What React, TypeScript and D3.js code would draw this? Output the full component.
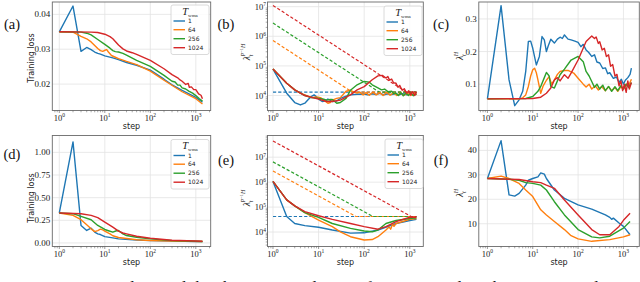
import React from "react";
import * as d3 from "d3";

type Pt = [number, number];

const legendLabels = ["1", "64", "256", "1024"];
const colors = ["#1f77b4", "#ff7f0e", "#2ca02c", "#d62728"];

// (a) training loss, top row
const lossA_1: Pt[] = [[1, 0.035], [2, 0.0424], [3, 0.0294], [4, 0.0305], [5, 0.0299], [6, 0.0292], [7, 0.0288], [8, 0.0286], [10, 0.0281], [15, 0.0275], [20, 0.027], [30, 0.0262], [50, 0.0254], [100, 0.024], [200, 0.0214], [300, 0.0198], [500, 0.0182], [1000, 0.0162], [1400, 0.0148]];
const lossA_64: Pt[] = [[1, 0.035], [2, 0.0349], [3, 0.0337], [4, 0.033], [5, 0.0321], [6, 0.0311], [7, 0.0302], [8, 0.0296], [9, 0.0294], [10, 0.0297], [11, 0.0299], [12, 0.0292], [14, 0.0282], [17, 0.0277], [20, 0.0273], [30, 0.0265], [50, 0.0256], [100, 0.0237], [200, 0.0211], [500, 0.0178], [1000, 0.0158], [1400, 0.0143]];
const lossA_256: Pt[] = [[1, 0.035], [3, 0.0349], [4, 0.0346], [5, 0.0341], [7, 0.0328], [10, 0.0314], [13, 0.0303], [15, 0.0296], [17, 0.0293], [20, 0.0292], [25, 0.0288], [30, 0.0283], [50, 0.0268], [100, 0.0251], [200, 0.0225], [300, 0.0208], [350, 0.0206], [400, 0.0197], [450, 0.0197], [500, 0.0189], [600, 0.0186], [700, 0.018], [850, 0.0174], [1000, 0.0167], [1200, 0.0158], [1400, 0.0151]];
const lossA_1024: Pt[] = [[1, 0.035], [5, 0.0349], [7, 0.0348], [10, 0.0343], [13, 0.0336], [15, 0.033], [20, 0.0312], [25, 0.0301], [30, 0.0295], [40, 0.029], [50, 0.0285], [100, 0.0268], [200, 0.0244], [300, 0.0227], [400, 0.0218], [450, 0.0212], [500, 0.0208], [600, 0.0199], [680, 0.0202], [720, 0.0191], [800, 0.0192], [900, 0.0184], [1000, 0.0184], [1150, 0.0172], [1300, 0.0168], [1400, 0.0158]];

// (b) preconditioned sharpness, top row (solid) and its bound (dashed)
const precB_1: Pt[] = [[1, 7.8e4], [2, 1.2e4], [3, 5.8e3], [4, 4.8e3], [5, 5.5e3], [6, 7.5e3], [7, 9.3e3], [8, 1.05e4], [9, 9e3], [10, 7.6e3], [12, 6.3e3], [14, 6.5e3], [16, 7.6e3], [18, 7e3], [20, 6.3e3], [25, 6.5e3], [30, 8e3], [40, 9.5e3], [50, 1.05e4], [70, 1.1e4], [100, 1.12e4], [120, 1.05e4], [150, 1.15e4], [180, 1.08e4], [220, 1.18e4], [270, 1.06e4], [330, 1.15e4], [400, 1.07e4], [480, 1.17e4], [580, 1.05e4], [700, 1.16e4], [850, 1.06e4], [1000, 1.14e4], [1200, 1.05e4], [1400, 1.12e4]];
const precB_64: Pt[] = [[1, 7.8e4], [2, 2.6e4], [3, 1.55e4], [4, 1.2e4], [5, 1.05e4], [7, 8.5e3], [9, 9e3], [11, 8.5e3], [13, 7e3], [16, 5.5e3], [18, 5.8e3], [20, 7e3], [25, 8e3], [30, 8.5e3], [40, 1.4e4], [50, 1.5e4], [60, 1.3e4], [70, 1.2e4], [80, 1.3e4], [95, 1.05e4], [110, 1.25e4], [130, 1.02e4], [155, 1.3e4], [185, 1.05e4], [220, 1.25e4], [260, 1.0e4], [310, 1.28e4], [370, 1.02e4], [440, 1.25e4], [520, 1.0e4], [620, 1.22e4], [740, 1.0e4], [880, 1.22e4], [1050, 1.0e4], [1250, 1.2e4], [1400, 1.05e4]];
const precB_256: Pt[] = [[1, 7.8e4], [2, 2.6e4], [3, 1.55e4], [5, 1e4], [7, 8.5e3], [10, 8e3], [13, 7.5e3], [15, 7e3], [18, 7.3e3], [20, 7.3e3], [25, 5.5e3], [30, 5.8e3], [40, 8e3], [50, 1.5e4], [70, 2.3e4], [100, 3e4], [130, 2.8e4], [150, 2.3e4], [200, 1.8e4], [240, 1.55e4], [280, 1.65e4], [330, 1.35e4], [400, 1.4e4], [450, 1.15e4], [500, 1.2e4], [560, 1.0e4], [640, 1.25e4], [720, 0.98e4], [820, 1.22e4], [930, 1.0e4], [1050, 1.2e4], [1200, 0.98e4], [1400, 1.15e4]];
const precB_1024: Pt[] = [[1, 7.8e4], [2, 2.6e4], [3, 1.55e4], [5, 1e4], [7, 8.7e3], [10, 7.6e3], [15, 6.3e3], [20, 6.3e3], [30, 7e3], [50, 1.05e4], [70, 1.55e4], [100, 2e4], [150, 3.4e4], [200, 4.6e4], [250, 4.8e4], [300, 3.9e4], [330, 4.4e4], [360, 3.3e4], [400, 3.6e4], [440, 2.7e4], [500, 2.6e4], [550, 1.9e4], [600, 2.2e4], [680, 1.5e4], [760, 1.7e4], [850, 1.2e4], [950, 1.45e4], [1050, 1.05e4], [1150, 1.35e4], [1280, 1.0e4], [1400, 1.3e4]];
const boundB_1: Pt[] = [[1, 1.3e4], [1400, 1.3e4]];
const boundB_64: Pt[] = [[1, 7.2e5], [55, 1.3e4], [1400, 1.3e4]];
const boundB_256: Pt[] = [[1, 2.8e6], [215, 1.3e4], [1400, 1.3e4]];
const boundB_1024: Pt[] = [[1, 1.1e7], [846, 1.3e4], [1400, 1.3e4]];

// (c) sharpness, top row
const sharpC_1: Pt[] = [[1, 0.055], [2, 0.341], [3, 0.113], [4, 0.034], [5, 0.052], [6, 0.078], [7, 0.139], [8, 0.231], [9, 0.232], [10, 0.21], [12, 0.159], [14, 0.185], [16, 0.246], [18, 0.236], [20, 0.2], [22, 0.218], [25, 0.238], [30, 0.226], [35, 0.238], [40, 0.244], [45, 0.24], [50, 0.251], [60, 0.238], [70, 0.236], [85, 0.232], [100, 0.228], [115, 0.215], [130, 0.222], [150, 0.205], [170, 0.198], [200, 0.185], [230, 0.19], [260, 0.168], [300, 0.165], [350, 0.148], [400, 0.15], [450, 0.132], [500, 0.135], [600, 0.118], [700, 0.122], [800, 0.105], [900, 0.115], [1000, 0.1], [1100, 0.112], [1250, 0.12], [1400, 0.13], [1500, 0.149]];
const sharpC_64: Pt[] = [[1, 0.055], [5, 0.055], [6, 0.058], [7, 0.067], [8, 0.093], [9, 0.125], [10, 0.144], [11, 0.149], [12, 0.135], [13, 0.113], [15, 0.072], [17, 0.095], [20, 0.112], [23, 0.123], [26, 0.1], [30, 0.113], [35, 0.13], [40, 0.139], [50, 0.142], [60, 0.142], [80, 0.134], [100, 0.118], [130, 0.1], [150, 0.091], [175, 0.1], [200, 0.085], [240, 0.095], [280, 0.082], [330, 0.093], [400, 0.08], [470, 0.092], [550, 0.08], [650, 0.09], [750, 0.078], [870, 0.092], [1000, 0.085], [1150, 0.1], [1300, 0.095], [1500, 0.115]];
const sharpC_256: Pt[] = [[1, 0.055], [7, 0.056], [10, 0.062], [13, 0.078], [15, 0.093], [18, 0.12], [20, 0.136], [23, 0.125], [25, 0.093], [30, 0.088], [35, 0.11], [40, 0.129], [50, 0.146], [70, 0.174], [100, 0.185], [130, 0.169], [150, 0.139], [175, 0.125], [200, 0.108], [230, 0.09], [260, 0.1], [300, 0.085], [350, 0.097], [400, 0.08], [470, 0.093], [550, 0.078], [650, 0.092], [750, 0.08], [870, 0.095], [1000, 0.085], [1150, 0.1], [1300, 0.09], [1500, 0.105]];
const sharpC_1024: Pt[] = [[1, 0.055], [10, 0.056], [15, 0.06], [20, 0.072], [25, 0.088], [30, 0.113], [35, 0.12], [40, 0.11], [50, 0.129], [60, 0.118], [70, 0.134], [100, 0.174], [150, 0.231], [200, 0.248], [230, 0.24], [250, 0.245], [280, 0.225], [300, 0.23], [340, 0.205], [380, 0.21], [420, 0.185], [470, 0.19], [520, 0.155], [580, 0.16], [650, 0.125], [720, 0.13], [800, 0.095], [880, 0.11], [960, 0.08], [1050, 0.1], [1150, 0.075], [1250, 0.11], [1350, 0.085], [1500, 0.105]];

// (d) training loss, bottom row
const lossD_1: Pt[] = [[1, 0.331], [2, 1.115], [3, 0.193], [4, 0.138], [5, 0.164], [6, 0.12], [7, 0.1], [8, 0.093], [10, 0.07], [15, 0.056], [20, 0.045], [50, 0.033], [100, 0.026], [1000, 0.016], [1400, 0.015]];
const lossD_64: Pt[] = [[1, 0.331], [2, 0.305], [3, 0.257], [4, 0.2], [5, 0.156], [6, 0.125], [7, 0.137], [8, 0.152], [9, 0.145], [10, 0.13], [13, 0.1], [15, 0.08], [20, 0.06], [50, 0.035], [100, 0.028], [300, 0.022], [1400, 0.016]];
const lossD_256: Pt[] = [[1, 0.331], [2, 0.323], [3, 0.294], [5, 0.256], [7, 0.193], [10, 0.149], [12, 0.135], [15, 0.119], [18, 0.135], [20, 0.138], [25, 0.1], [30, 0.082], [50, 0.063], [100, 0.045], [300, 0.026], [1400, 0.017]];
const lossD_1024: Pt[] = [[1, 0.331], [3, 0.323], [5, 0.305], [7, 0.279], [10, 0.23], [15, 0.175], [20, 0.13], [25, 0.11], [30, 0.1], [50, 0.074], [100, 0.052], [300, 0.03], [1400, 0.019]];

// (e) preconditioned sharpness, bottom row
const precE_1: Pt[] = [[1, 1.07e6], [2, 4.2e4], [3, 2.2e4], [5, 1.8e4], [10, 1.55e4], [20, 1.2e4], [50, 9e3], [100, 9.3e3], [200, 1.2e4], [500, 2.2e4], [1000, 2.9e4], [1400, 3.2e4]];
const precE_64: Pt[] = [[1, 1.07e6], [2, 1.95e5], [3, 1.12e5], [5, 6e4], [10, 3e4], [20, 1.65e4], [30, 1.02e4], [50, 6.5e3], [100, 4.8e3], [150, 5e3], [200, 6.5e3], [300, 1.2e4], [350, 1.6e4], [380, 1.3e4], [420, 2.1e4], [450, 1.7e4], [500, 2.2e4], [1000, 3.2e4], [1400, 3.5e4]];
const precE_256: Pt[] = [[1, 1.07e6], [2, 1.95e5], [3, 1.12e5], [5, 6e4], [10, 3.9e4], [20, 2.2e4], [50, 1.4e4], [100, 1.1e4], [150, 1.02e4], [200, 1.2e4], [300, 2.2e4], [500, 2.9e4], [1000, 3.5e4], [1400, 3.7e4]];
const precE_1024: Pt[] = [[1, 1.07e6], [2, 1.95e5], [3, 1.12e5], [5, 6.6e4], [10, 4.5e4], [20, 3.2e4], [50, 2.2e4], [100, 1.65e4], [200, 1.3e4], [300, 1.65e4], [500, 2.6e4], [1000, 3.9e4], [1400, 3.9e4]];
const boundE_1: Pt[] = [[1, 4.2e4], [1400, 4.2e4]];
const boundE_64: Pt[] = [[1, 2.8e6], [66, 4.2e4], [1400, 4.2e4]];
const boundE_256: Pt[] = [[1, 6.5e6], [155, 4.2e4], [1400, 4.2e4]];
const boundE_1024: Pt[] = [[1, 4.5e7], [1070, 4.2e4], [1400, 4.2e4]];

// (f) sharpness, bottom row
const sharpF_1: Pt[] = [[1, 28.5], [2, 44], [3, 21.8], [4, 21.3], [5, 22.4], [7, 25.8], [8, 27.8], [10, 28.5], [13, 29.2], [15, 30.8], [18, 30.3], [20, 28.5], [30, 23.8], [50, 20.4], [100, 17.7], [200, 16], [400, 13.6], [500, 12.6], [550, 11.8], [600, 12.3], [800, 10.3], [1000, 8.9], [1400, 5.5]];
const sharpF_64: Pt[] = [[1, 28.5], [2, 29.5], [3, 28.5], [5, 26.5], [7, 23.8], [10, 21.1], [15, 15.7], [20, 13.6], [30, 10.9], [50, 7.6], [70, 5.1], [100, 3.8], [200, 2.8], [500, 3.5], [1000, 4.6], [1400, 5.5]];
const sharpF_256: Pt[] = [[1, 28.5], [3, 28.2], [5, 27.8], [7, 26.8], [10, 26.5], [15, 25.8], [20, 23.8], [30, 19], [50, 13.6], [100, 7.6], [200, 4.6], [300, 4.2], [500, 4.9], [1000, 8.2], [1400, 10.9]];
const sharpF_1024: Pt[] = [[1, 28.5], [5, 28.1], [10, 27.2], [15, 26.8], [20, 25.8], [30, 24.5], [50, 19.7], [100, 13.6], [200, 7.6], [300, 5.5], [500, 5.5], [800, 8.9], [1000, 11.4], [1400, 14.3]];

const lossTicksA = [0.02, 0.03, 0.04];
const sharpTicksC = [0.1, 0.2, 0.3];
const lossTicksD = [0, 0.25, 0.5, 0.75, 1.0];
const sharpTicksF = [10, 20, 30, 40];
const logTicks = [1e4, 1e5, 1e6, 1e7];
const stepTicks = [1, 10, 100, 1000];

const serif = "'Liberation Serif', 'DejaVu Serif', serif";
const sans = "'DejaVu Sans', sans-serif";

function Pow10({ x, y, e, anchor }: { x: number; y: number; e: number; anchor: string }) {
  return (
    <text x={x} y={y} textAnchor={anchor} fontFamily={serif} fontSize={8.5} fill="#222">
      10<tspan dy={-3.5} fontSize={5.5}>{e}</tspan>
    </text>
  );
}

function Legend({ x, y }: { x: number; y: number }) {
  const rows = [16, 24.7, 33.7, 42.7];
  return (
    <g>
      <rect x={x} y={y} width={38} height={49.5} rx={2} fill="white" fillOpacity={0.85} stroke="#d0d0d0" strokeWidth={0.8} />
      <text x={x + 19} y={y + 9.5} textAnchor="middle" fontFamily={serif} fontStyle="italic" fontSize={10.5} fill="#222">
        T<tspan dy={2} fontSize={5} fontStyle="normal">wma</tspan>
      </text>
      {legendLabels.map((lab, i) => (
        <g key={lab}>
          <line x1={x + 2.5} x2={x + 14} y1={y + rows[i]} y2={y + rows[i]} stroke={colors[i]} strokeWidth={1.4} />
          <text x={x + 17} y={y + rows[i] + 2.2} fontFamily={sans} fontSize={6} fill="#222">{lab}</text>
        </g>
      ))}
    </g>
  );
}

interface PanelProps {
  id: string;
  x0: number; x1: number; y0: number; y1: number;
  xlo: number; xhi: number;
  yLog: boolean; yDomain: [number, number];
  yTicks: number[]; yFmt: (v: number) => string;
  lines: Pt[][]; dashed?: Pt[][];
  legend?: [number, number];
  tag: string; tagX: number; tagY: number;
  ylabel: React.ReactNode; ylabelX: number; ylabelY: number;
}

function Panel(p: PanelProps) {
  const x = d3.scaleLog().domain([10 ** p.xlo, 10 ** p.xhi]).range([p.x0, p.x1]);
  const y = (p.yLog ? d3.scaleLog() : d3.scaleLinear()).domain(p.yDomain).range([p.y1, p.y0]);
  const line = d3.line<Pt>().x((d) => x(d[0])).y((d) => y(d[1]));
  const xMinor: number[] = [];
  for (let k = -1; k <= 3; k++) for (let m = 2; m <= 9; m++) {
    const v = m * 10 ** k;
    if (v > 10 ** p.xlo && v < 10 ** p.xhi) xMinor.push(v);
  }
  const yMinor: number[] = [];
  if (p.yLog) {
    for (let k = 3; k <= 7; k++) for (let m = 2; m <= 9; m++) {
      const v = m * 10 ** k;
      if (v > p.yDomain[0] && v < p.yDomain[1]) yMinor.push(v);
    }
  }
  return (
    <g>
      <defs>
        <clipPath id={`clip-${p.id}`}>
          <rect x={p.x0} y={p.y0} width={p.x1 - p.x0} height={p.y1 - p.y0} />
        </clipPath>
      </defs>
      {stepTicks.map((t) => (
        <line key={`gx${t}`} x1={x(t)} x2={x(t)} y1={p.y0} y2={p.y1} stroke="#e3e3e3" strokeWidth={0.8} />
      ))}
      {p.yTicks.map((t) => (
        <line key={`gy${t}`} x1={p.x0} x2={p.x1} y1={y(t)} y2={y(t)} stroke="#e3e3e3" strokeWidth={0.8} />
      ))}
      <g clipPath={`url(#clip-${p.id})`}>
        {(p.dashed || []).map((d, i) => (
          <path key={`d${i}`} d={line(d) || ""} fill="none" stroke={colors[i]} strokeWidth={1.2} strokeDasharray="3.2,2" />
        ))}
        {p.lines.map((d, i) => (
          <path key={`l${i}`} d={line(d) || ""} fill="none" stroke={colors[i]} strokeWidth={1.4} strokeLinejoin="round" />
        ))}
      </g>
      <rect x={p.x0} y={p.y0} width={p.x1 - p.x0} height={p.y1 - p.y0} fill="none" stroke="#6a6a6a" strokeWidth={0.9} />
      {xMinor.map((t) => (
        <line key={`mx${t}`} x1={x(t)} x2={x(t)} y1={p.y1} y2={p.y1 + 1.8} stroke="#555" strokeWidth={0.5} />
      ))}
      {stepTicks.map((t) => (
        <line key={`tx${t}`} x1={x(t)} x2={x(t)} y1={p.y1} y2={p.y1 + 2.5} stroke="#555" strokeWidth={0.6} />
      ))}
      {yMinor.map((t) => (
        <line key={`my${t}`} x1={p.x0 - 1.8} x2={p.x0} y1={y(t)} y2={y(t)} stroke="#555" strokeWidth={0.5} />
      ))}
      {stepTicks.map((t, i) => (
        <Pow10 key={`lx${t}`} x={x(t)} y={p.y1 + 10} e={i} anchor="middle" />
      ))}
      {p.yTicks.map((t) =>
        p.yLog ? (
          <Pow10 key={`ly${t}`} x={p.x0 - 1.5} y={y(t) + 3} e={Math.round(Math.log10(t))} anchor="end" />
        ) : (
          <text key={`ly${t}`} x={p.x0 - 2} y={y(t) + 3} textAnchor="end" fontFamily={serif} fontSize={9} fill="#222">
            {p.yFmt(t)}
          </text>
        )
      )}
      <text x={(p.x0 + p.x1) / 2} y={p.y1 + 18} textAnchor="middle" fontFamily={sans} fontSize={8} fill="#222">step</text>
      <g transform={`translate(${p.ylabelX},${p.ylabelY}) rotate(-90)`}>{p.ylabel}</g>
      {p.legend && <Legend x={p.legend[0]} y={p.legend[1]} />}
      <text x={p.tagX} y={p.tagY} textAnchor="middle" fontFamily={serif} fontSize={14.5} fill="#111">{p.tag}</text>
    </g>
  );
}

const lossLabel = (
  <text x={0} y={0} textAnchor="middle" fontFamily={sans} fontSize={8} fill="#222">Training loss</text>
);
const precLabel = (
  <text x={0} y={0} textAnchor="middle" fontFamily={serif} fontSize={9.5} fill="#222">
    <tspan fontStyle="italic">λ</tspan>
    <tspan dy={2.5} fontSize={6} fontStyle="italic">t</tspan>
    <tspan dx={-2} dy={-7.5} fontSize={6} fontStyle="italic">P</tspan>
    <tspan dy={-2} fontSize={4.5}>−1</tspan>
    <tspan dy={2} fontSize={6} fontStyle="italic">H</tspan>
  </text>
);
const sharpLabel = (
  <text x={0} y={0} textAnchor="middle" fontFamily={serif} fontSize={9.5} fill="#222">
    <tspan fontStyle="italic">λ</tspan>
    <tspan dy={2.5} fontSize={6} fontStyle="italic">t</tspan>
    <tspan dx={-2} dy={-7.5} fontSize={6} fontStyle="italic">H</tspan>
  </text>
);

export default function App() {
  const fmt2 = (v: number) => v.toFixed(2);
  const fmt1 = (v: number) => v.toFixed(1);
  const fmt0 = (v: number) => v.toFixed(0);
  const rowTop: [number, number] = [2, 110.5];
  const rowBot: [number, number] = [135.5, 246.5];
  const col1 = { x0: 52.3, x1: 210.7, xlo: -0.154, xhi: 3.327 };
  const col2 = { x0: 267.5, x1: 423.3, xlo: -0.12, xhi: 3.296 };
  const col3 = { x0: 478.8, x1: 639.3, xlo: -0.19, xhi: 3.35 };
  return (
    <svg width={640} height={282} style={{ position: "absolute", left: 0, top: 0, background: "white" }}>
      <Panel id="a" {...col1} y0={rowTop[0]} y1={rowTop[1]} yLog={false} yDomain={[0.01242, 0.04355]}
        yTicks={lossTicksA} yFmt={fmt2} lines={[lossA_1, lossA_64, lossA_256, lossA_1024]}
        legend={[171, 5]} tag="(a)" tagX={12} tagY={29} ylabel={lossLabel} ylabelX={34} ylabelY={58} />
      <Panel id="b" {...col2} y0={rowTop[0]} y1={rowTop[1]} yLog={true} yDomain={[10 ** 3.494, 10 ** 7.158]}
        yTicks={logTicks} yFmt={fmt0} lines={[precB_1, precB_64, precB_256, precB_1024]}
        dashed={[boundB_1, boundB_64, boundB_256, boundB_1024]}
        legend={[384, 6]} tag="(b)" tagX={226} tagY={29} ylabel={precLabel} ylabelX={250} ylabelY={52} />
      <Panel id="c" {...col3} y0={rowTop[0]} y1={rowTop[1]} yLog={false} yDomain={[0.0192, 0.352]}
        yTicks={sharpTicksC} yFmt={fmt1} lines={[sharpC_1, sharpC_64, sharpC_256, sharpC_1024]}
        tag="(c)" tagX={441} tagY={29} ylabel={sharpLabel} ylabelX={463} ylabelY={56} />
      <Panel id="d" {...col1} y0={rowBot[0]} y1={rowBot[1]} yLog={false} yDomain={[-0.039, 1.186]}
        yTicks={lossTicksD} yFmt={fmt2} lines={[lossD_1, lossD_64, lossD_256, lossD_1024]}
        legend={[171, 139.5]} tag="(d)" tagX={12} tagY={159} ylabel={lossLabel} ylabelX={34} ylabelY={198} />
      <Panel id="e" {...col2} y0={rowBot[0]} y1={rowBot[1]} yLog={true} yDomain={[10 ** 3.42, 10 ** 7.87]}
        yTicks={logTicks} yFmt={fmt0} lines={[precE_1, precE_64, precE_256, precE_1024]}
        dashed={[boundE_1, boundE_64, boundE_256, boundE_1024]}
        legend={[385, 139]} tag="(e)" tagX={226} tagY={165} ylabel={precLabel} ylabelX={250} ylabelY={198} />
      <Panel id="f" {...col3} y0={rowBot[0]} y1={rowBot[1]} yLog={false} yDomain={[0.68, 46.1]}
        yTicks={sharpTicksF} yFmt={fmt0} lines={[sharpF_1, sharpF_64, sharpF_256, sharpF_1024]}
        tag="(f)" tagX={441} tagY={165} ylabel={sharpLabel} ylabelX={463} ylabelY={193} />
      <text x={0} y={293} fontFamily={serif} fontSize={17} fill="#111" textLength={638} lengthAdjust="spacing">
        Figure 2: Training loss and the sharpness evolution of FCN trained on the CIFAR-10 dataset
      </text>
    </svg>
  );
}
